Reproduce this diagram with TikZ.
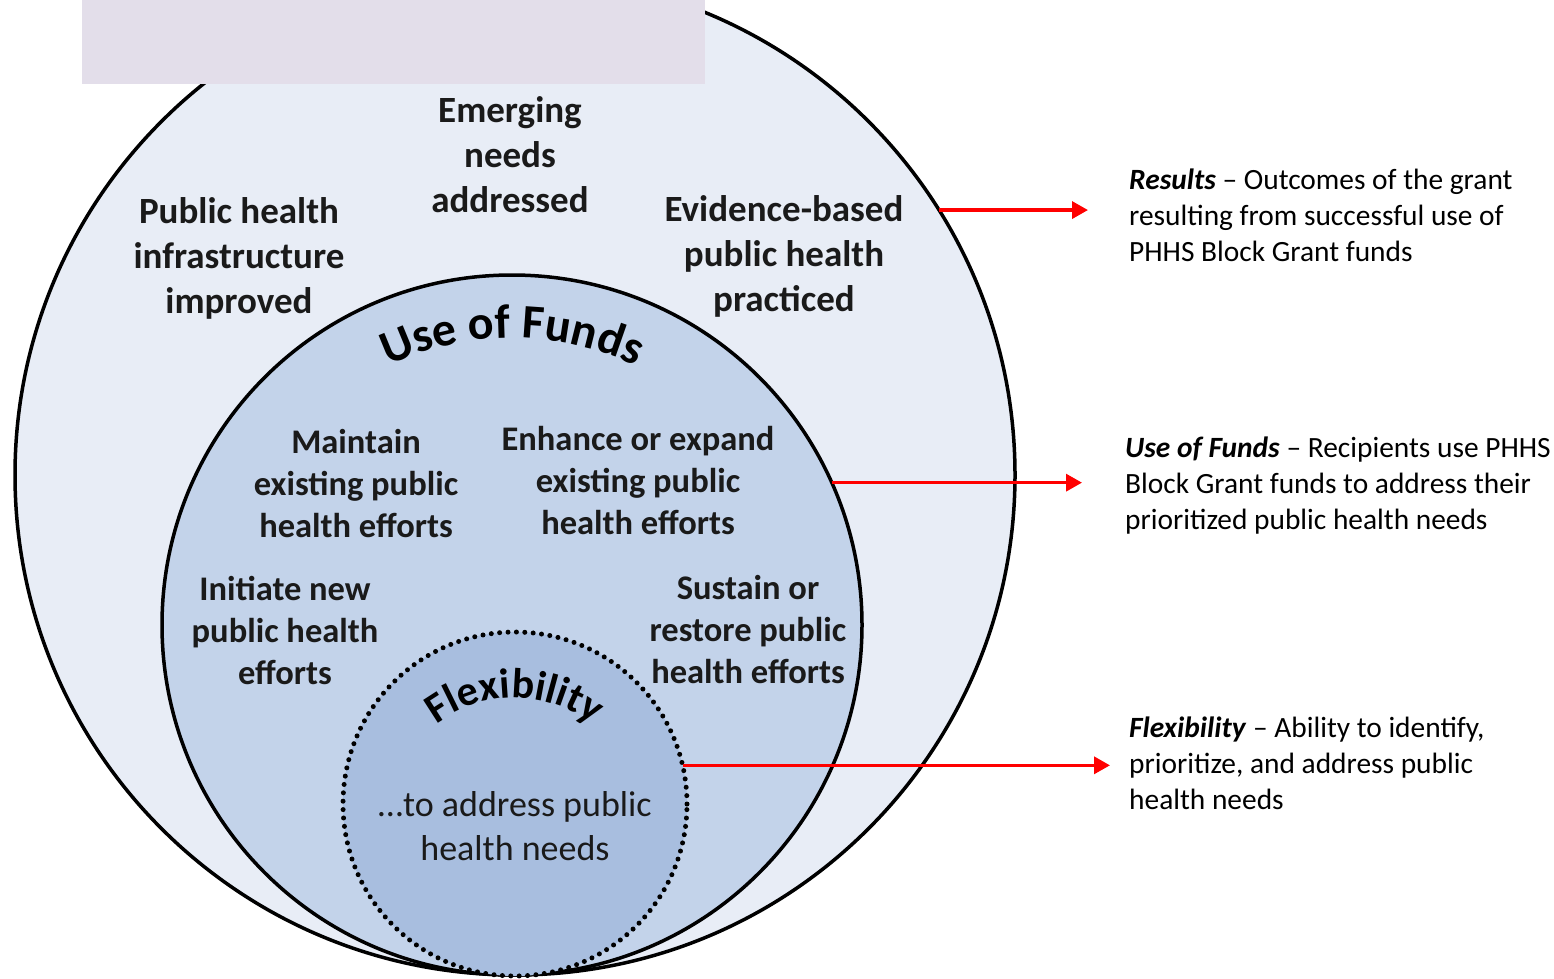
\documentclass[tikz,border=0pt]{standalone}
\usepackage{fontspec}
\setmainfont{Carlito}
\usetikzlibrary{arrows.meta,decorations.text,calc}
\definecolor{outerfill}{HTML}{E8EDF6}
\definecolor{midfill}{HTML}{C3D3EA}
\definecolor{innerfill}{HTML}{A8BEDF}
\definecolor{rectfill}{HTML}{E3DEEA}
\definecolor{txt}{HTML}{1A1A1A}
\newcommand\myLabelFont{\fontsize{37}{45}\selectfont\bfseries}
\newcommand\myInnerFont{\fontsize{34.5}{42}\selectfont\bfseries}
\newcommand\myUseFont{\fontsize{48}{50}\selectfont\bfseries}
\newcommand\myFlexFont{\fontsize{42}{46}\selectfont\bfseries}
\newcommand\myDescFont{\fontsize{29.4}{36}\selectfont}
\tikzset{
  ring/.style={circle, inner sep=0pt, outer sep=0pt, draw=black, line width=3.5pt},
  dotring/.style={circle, inner sep=0pt, outer sep=0pt, draw=black, line width=5pt,
    dash pattern=on 0pt off 8.4pt, line cap=round},
  lab/.style={align=center, font=\myLabelFont, text=txt, inner sep=0pt},
  ilab/.style={align=center, font=\myInnerFont, text=txt, inner sep=0pt},
  desc/.style={align=left, font=\myDescFont, text=black, inner sep=0pt, anchor=north west},
  redarrow/.style={draw=red, line width=3.4pt, -{Triangle[length=16pt,width=17pt]}},
}
\begin{document}
\begin{tikzpicture}[x=1pt,y=1pt]
\clip (0,0) rectangle (1554,-978);
\fill[white] (0,0) rectangle (1554,-978);
% circles
\node[ring, fill=outerfill, minimum size=1000pt] (outer) at (515,-475) {};
\fill[rectfill] (82,0) rectangle (705,-84);
\node[ring, fill=midfill, minimum size=700pt] (mid) at (512,-625) {};
\node[circle, fill=innerfill, inner sep=0pt, minimum size=344pt] (innerbg) at (515,-804) {};
\node[dotring, minimum size=344pt] (inner) at (515,-804) {};
% curved titles
\coordinate (uc) at (512,-625);
\path[decorate, decoration={text along path, text align=center,
   text={|\myUseFont|Use of Funds}}]
   (uc) ++(150:287) arc[start angle=150, end angle=30, radius=287];
\coordinate (fc) at (515,-828);
\path[decorate, decoration={text along path, text align=center,
   text={|\myFlexFont|Flexibility}}]
   (fc) ++(160:130) arc[start angle=160, end angle=20, radius=130];
% outer labels
\node[lab] (emerg) at (510,-155) {Emerging\\needs\\addressed};
\node[lab] (infra) at (239,-258) {Public health\\infrastructure\\improved};
\node[lab] (evid) at (784,-256) {Evidence-based\\public health\\practiced};
% middle labels
\node[ilab] (maint) at (356,-484) {Maintain\\existing public\\health efforts};
\node[ilab] (enh) at (638,-481) {Enhance or expand\\existing public\\health efforts};
\node[ilab] (init) at (285,-630) {Initiate new\\public health\\efforts};
\node[ilab] (sust) at (748,-630) {Sustain or\\restore public\\health efforts};
% inner label
\node[align=center, font=\fontsize{36}{44}\selectfont, text=txt, inner sep=0pt] (addr) at (515,-826) {…to address public\\health needs};
% descriptions
\node[desc] (dres) at (1129,-169) {\textbf{\textit{Results}} – Outcomes of the grant\\resulting from successful use of\\PHHS Block Grant funds};
\node[desc] (duse) at (1125,-437) {\textbf{\textit{Use of Funds}} – Recipients use PHHS\\Block Grant funds to address their\\prioritized public health needs};
\node[desc] (dflex) at (1129,-717) {\textbf{\textit{Flexibility}} – Ability to identify,\\prioritize, and address public\\health needs};
% arrows
\coordinate (e1) at (1088,-206);
\coordinate (e2) at (1082,-480);
\coordinate (e3) at (1110,-766);
\draw[redarrow] (outer.32.6) -- (outer.32.6 -| e1);
\draw[redarrow] (mid.24.3) -- (mid.24.3 -| e2);
\draw[redarrow] (inner.13) -- (inner.13 -| e3);
\end{tikzpicture}
\end{document}
